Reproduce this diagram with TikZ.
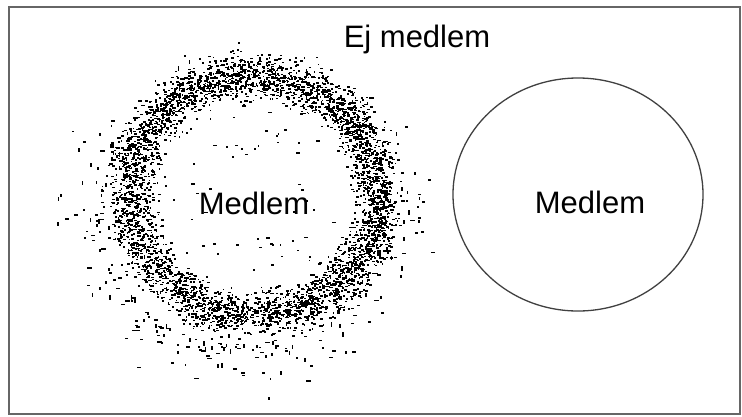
\documentclass[tikz,border=0pt]{standalone}
\usepackage{fontspec}
\setmainfont{Liberation Sans}
\usetikzlibrary{shapes.geometric}
\tikzset{
  frame/.style={draw=black!60, line width=1.2pt},
  word/.style={font=\fontsize{31}{36}\selectfont, anchor=base, inner sep=0pt},
  member/.style={ellipse, draw=black!75, line width=1.3pt, minimum width=250pt, minimum height=233pt, inner sep=0pt},
  speck/.style={fill=black},
}
\begin{document}
\begin{tikzpicture}[x=1pt, y=-1pt]
  \useasboundingbox (0,0) rectangle (742,416);
  \draw[frame] (9,7) rectangle (740,414);

  % Fuzzy member set
  \pgfmathsetseed{4242}
  \foreach \i in {1,...,4200}{
    \pgfmathsetmacro\ang{360*rnd}
    \pgfmathsetmacro\rad{1+0.09*(rand+rand+rand)}
    \pgfmathsetmacro\len{1.2+2*rnd}
    \pgfmathsetmacro\px{253+124*\rad*cos(\ang)}
    \pgfmathsetmacro\py{195+120*\rad*sin(\ang)}
    \fill[speck] (\px,\py) rectangle ++(\len,1.6);
  }
  % Outer scatter
  \foreach \i in {1,...,360}{
    \pgfmathsetmacro\ang{360*rnd}
    \pgfmathsetmacro\rad{1.12+0.5*rnd*rnd}
    \pgfmathsetmacro\wid{rnd<0.5 ? 2+3*rnd : 1.6}
    \pgfmathsetmacro\hgt{\wid>1.7 ? 1.6 : 2+3*rnd}
    \pgfmathsetmacro\px{240+124*\rad*cos(\ang)}
    \pgfmathsetmacro\py{215+115*\rad*sin(\ang)}
    \fill[speck] (\px,\py) rectangle ++(\wid,\hgt);
  }
  % Inner scatter
  \foreach \i in {1,...,70}{
    \pgfmathsetmacro\ang{360*rnd}
    \pgfmathsetmacro\rad{0.35+0.5*rnd}
    \pgfmathsetmacro\wid{rnd<0.5 ? 2+2*rnd : 1.6}
    \pgfmathsetmacro\px{253+124*\rad*cos(\ang)}
    \pgfmathsetmacro\py{195+120*\rad*sin(\ang)}
    \fill[speck] (\px,\py) rectangle ++(\wid,1.6);
  }

  % Crisp member set
  \node[member] (crisp) at (578,194.5) {};

  \node[word] (outside) at (417,47) {Ej medlem};
  \node[word] (fuzzyname) at (254,214) {Medlem};
  \node[word] (crispname) at (590,213) {Medlem};
\end{tikzpicture}
\end{document}
